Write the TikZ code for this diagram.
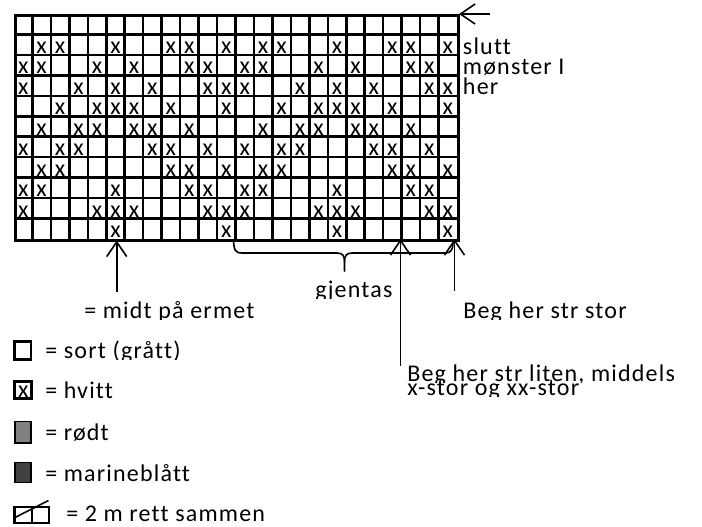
\documentclass[tikz,border=0pt]{standalone}
\usepackage{fontspec}
\setmainfont{Carlito}[LetterSpace=5,Ligatures={NoCommon,NoRare,NoContextual}]
\newfontfamily\xmarkfont{Carlito}
\usetikzlibrary{arrows.meta}
\definecolor{redgray}{RGB}{128,128,128}
\definecolor{navygray}{RGB}{64,64,64}
\newcommand\cliplabel[4]{%
  \begin{scope}
    \clip (#2-20,#3-40) rectangle (#2+320,#3+1.2);
    \node[lbl,anchor=base west] (#1) at (#2,#3) {#4};
  \end{scope}}
\tikzset{
  gridline/.style={line width=1.9pt},
  xmark/.style={font=\xmarkfont\fontsize{18}{18}\selectfont,inner sep=0pt,anchor=base},
  lbl/.style={inner sep=0pt,font=\fontsize{18}{18}\selectfont},
  arr/.style={line width=1.2pt,-{Straight Barb[length=11pt,width=15pt]}},
  bracel/.style={line width=1.2pt,line cap=round,line join=round},
  legbox/.style={line width=2.2pt},
}
\begin{document}
\begin{tikzpicture}[x=0.75pt,y=-0.75pt]
\useasboundingbox (0,0) rectangle (702,526);
% grid
\foreach \i in {1,...,23} \draw[gridline] ({14+\i*18.458},14) -- ({14+\i*18.458},239);
\foreach \j in {1,...,10} \draw[gridline] (14,{14+\j*20.45}) -- (457,{14+\j*20.45});
\node[draw,line width=1.9pt,inner sep=0pt,minimum width=443*0.75pt,minimum height=225*0.75pt,anchor=north west] (grid) at (14,14) {};
% x marks (pattern repeats every 12 columns)
\foreach \r/\cols in {1/{1,2,5,8,9,11},2/{0,1,4,6,9,10},3/{0,3,5,7,10,11},4/{2,4,5,6,8,11},5/{1,3,4,6,7,9},6/{0,2,3,7,8,10},7/{1,2,8,9,11},8/{0,1,5,9,10},9/{0,4,5,6,10,11},10/{5,11}}{
  \foreach \c in \cols {
    \foreach \k in {0,12} {
      \node[xmark] (x\r-\c-\k) at ({14+(\c+\k+0.5)*18.458},{14+(\r+1)*20.45-1.4}) {x};
    }
  }
}
% top-right end marker
\node[lbl,anchor=base west] (slutt) at (462.7,54) {slutt};
\node[lbl,anchor=base west] (monster) at (462.7,74.3) {mønster I};
\node[lbl,anchor=base west] (her) at (462.7,94.3) {her};
\coordinate (endTail) at (490,14);
\coordinate (endTip) at (459,14);
\draw[arr] (endTail) -- (endTip);
% arrows below grid
\coordinate (midtTip) at (116.7,240.5);
\coordinate (midtTail) at (116.7,292);
\coordinate (litenTip) at (400.5,239);
\coordinate (litenTail) at (400.5,366);
\coordinate (storTip) at (454.5,239);
\coordinate (storTail) at (454.5,291);
\draw[arr] (midtTail) -- (midtTip);
\draw[arr] (litenTail) -- (litenTip);
\draw[arr] (storTail) -- (storTip);
% brace
\coordinate (bS) at (233.5,240);
\coordinate (bM) at (344.5,271);
\coordinate (bE) at (453,243);
\draw[bracel] (bS) .. controls (234,250) and (235,253) .. (242,253) -- (337,253) .. controls (343,253) and (344.5,256) .. (344.5,262) -- (bM);
\draw[bracel] (344.5,262) .. controls (344.5,256) and (346,253) .. (352,253) -- (446,253) .. controls (451,253) and (453,249) .. (bE);
% labels
\cliplabel{midt}{84}{318}{= midt på ermet}
\cliplabel{gjentas}{315}{297}{gjentas}
\cliplabel{stor}{463}{318.3}{Beg her str stor}
\cliplabel{liten}{407}{381}{Beg her str liten, middels}
\cliplabel{xstor}{407}{395}{x-stor og xx-stor}
% legend
\draw[legbox] (14.8,341.5) rectangle (31,359.2);
\cliplabel{sort}{45}{358.3}{= sort (grått)}
\draw[legbox] (14.8,381.5) rectangle (31.8,398.3);
\node[xmark] (legx) at (23.3,397) {x};
\cliplabel{hvitt}{45}{398.3}{= hvitt}
\draw[line width=1.4pt,fill=redgray] (14.8,421.5) rectangle (31.3,443);
\cliplabel{rodt}{45}{440}{= rødt}
\draw[line width=1.4pt,fill=navygray] (14.8,462.5) rectangle (31.3,482.5);
\cliplabel{marine}{45}{481.7}{= marineblått}
\draw[legbox] (14.8,507) rectangle (49,523);
\draw[legbox] (32,507) -- (32,523);
\draw[line width=1.2pt] (15,517.5) -- (48.5,500.5);
\cliplabel{sammen}{66}{521.5}{= 2 m rett sammen}
\end{tikzpicture}
\end{document}
